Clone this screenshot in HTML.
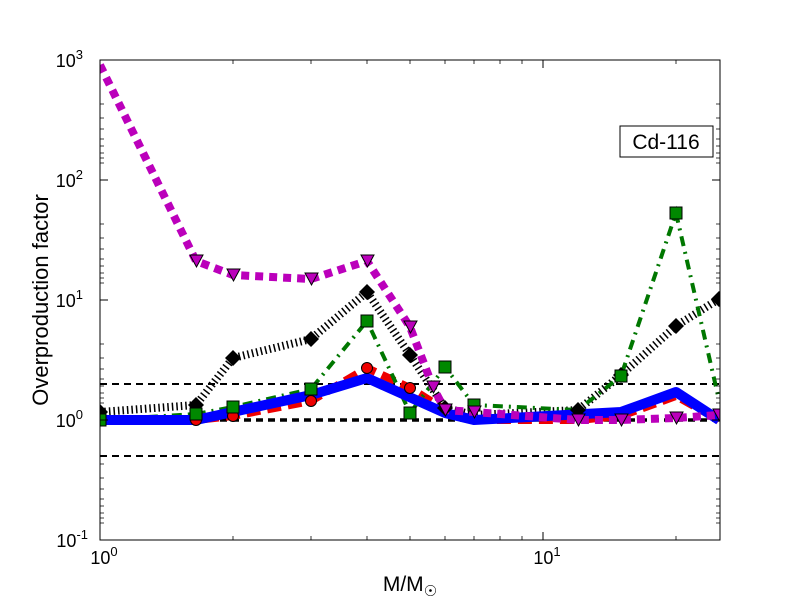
<!DOCTYPE html>
<html><head><meta charset="utf-8"><style>body{margin:0;background:#fff}svg{display:block}text{font-family:"Liberation Sans",sans-serif}</style></head>
<body>
<svg width="800" height="600" viewBox="0 0 800 600" xmlns="http://www.w3.org/2000/svg">
<rect width="800" height="600" fill="#fff"/>
<defs><clipPath id="c"><rect x="100" y="60" width="620" height="480"/></clipPath></defs>
<g clip-path="url(#c)">
<line x1="100" y1="384" x2="720" y2="384" stroke="#000" stroke-width="2" stroke-dasharray="7,5"/>
<line x1="100" y1="420" x2="720" y2="420" stroke="#000" stroke-width="3.5" stroke-dasharray="7,5"/>
<line x1="100" y1="456" x2="720" y2="456" stroke="#000" stroke-width="2" stroke-dasharray="7,5"/>
<polyline fill="none" stroke="#e00" stroke-width="8" stroke-dasharray="14,7" points="100,420 196,420 233,416 311,401 367,368 410,388 445,410 474,420 578,420 621,416 676,396 719,420"/>
<polyline fill="none" stroke="#000" stroke-width="8" stroke-dasharray="1.5,3" points="100,412 196,405 233,358 311,339 367,292 410,355 445,408 474,415 578,410 621,375 676,326 719,299"/>
<polyline fill="none" stroke="#070" stroke-width="4" stroke-dasharray="10,6,2,6" points="100,420 196,414 233,407 311,389 367,321 410,413 445,367 474,405 578,410 621,376 676,213 719,400"/>
<polyline fill="none" stroke="#00f" stroke-width="10" stroke-linejoin="round" points="100,420 196,420 311,395 367,378 445,413 474,420 621,412 676,392 719,420"/>
<polyline fill="none" stroke="#b0b" stroke-width="8" stroke-dasharray="8,6" points="100,65 196,261 233,275 311,279 367,261 410,327 433,387 445,410 474,412 578,420 621,420 676,418 719,415"/>
<g fill="#e00" stroke="#000" stroke-width="1">
<circle cx="311" cy="401" r="5.5"/><circle cx="367" cy="368" r="5.5"/><circle cx="410" cy="388" r="5.5"/><circle cx="233" cy="416" r="5.5"/><circle cx="196" cy="420" r="5.5"/>
</g>
<g fill="#000">
<path d="M100,404 l8,8 -8,8 -8,-8z"/><path d="M196,397 l8,8 -8,8 -8,-8z"/><path d="M233,350 l8,8 -8,8 -8,-8z"/><path d="M311,331 l8,8 -8,8 -8,-8z"/><path d="M367,284 l8,8 -8,8 -8,-8z"/><path d="M410,347 l8,8 -8,8 -8,-8z"/><path d="M445,400 l8,8 -8,8 -8,-8z"/><path d="M578,402 l8,8 -8,8 -8,-8z"/><path d="M621,367 l8,8 -8,8 -8,-8z"/><path d="M676,318 l8,8 -8,8 -8,-8z"/><path d="M719,291 l8,8 -8,8 -8,-8z"/>
</g>
<g fill="#080" stroke="#000" stroke-width="1">
<rect x="94" y="414" width="12" height="12"/><rect x="190" y="408" width="12" height="12"/><rect x="227" y="401" width="12" height="12"/><rect x="305" y="383" width="12" height="12"/><rect x="361" y="315" width="12" height="12"/><rect x="404" y="407" width="12" height="12"/><rect x="439" y="361" width="12" height="12"/><rect x="468" y="399" width="12" height="12"/><rect x="615" y="370" width="12" height="12"/><rect x="670" y="207" width="12" height="12"/>
</g>
<g fill="#b0b" stroke="#000" stroke-width="1">
<path d="M190,255 h13 l-6.5,12z"/><path d="M227,269 h13 l-6.5,12z"/><path d="M305,273 h13 l-6.5,12z"/><path d="M361,255 h13 l-6.5,12z"/><path d="M404,321 h13 l-6.5,12z"/><path d="M427,381 h13 l-6.5,12z"/><path d="M439,404 h13 l-6.5,12z"/><path d="M468,406 h13 l-6.5,12z"/><path d="M572,414 h13 l-6.5,12z"/><path d="M615,414 h13 l-6.5,12z"/><path d="M670,412 h13 l-6.5,12z"/><path d="M713,409 h13 l-6.5,12z"/>
</g>
</g>
<rect x="100" y="60" width="620" height="480" fill="none" stroke="#000" stroke-width="1"/>
<g stroke="#000" stroke-width="1">
<line x1="100" y1="180" x2="108" y2="180"/><line x1="100" y1="300" x2="108" y2="300"/><line x1="100" y1="420" x2="108" y2="420"/>
<line x1="720" y1="180" x2="712" y2="180"/><line x1="720" y1="300" x2="712" y2="300"/><line x1="720" y1="420" x2="712" y2="420"/>
<line x1="543" y1="540" x2="543" y2="532"/><line x1="543" y1="60" x2="543" y2="68"/>
</g>
<g stroke="#000" stroke-width="0.8">
<line x1="233" y1="540" x2="233" y2="536"/><line x1="311" y1="540" x2="311" y2="536"/><line x1="367" y1="540" x2="367" y2="536"/><line x1="410" y1="540" x2="410" y2="536"/><line x1="445" y1="540" x2="445" y2="536"/><line x1="474" y1="540" x2="474" y2="536"/><line x1="500" y1="540" x2="500" y2="536"/><line x1="522" y1="540" x2="522" y2="536"/><line x1="676" y1="540" x2="676" y2="536"/>
<line x1="233" y1="60" x2="233" y2="64"/><line x1="311" y1="60" x2="311" y2="64"/><line x1="367" y1="60" x2="367" y2="64"/><line x1="410" y1="60" x2="410" y2="64"/><line x1="445" y1="60" x2="445" y2="64"/><line x1="474" y1="60" x2="474" y2="64"/><line x1="500" y1="60" x2="500" y2="64"/><line x1="522" y1="60" x2="522" y2="64"/><line x1="676" y1="60" x2="676" y2="64"/>
</g>
<g stroke="#000" stroke-width="0.8" id="my">
<path d="M100,104 h4 M100,118 h4 M100,129 h4 M100,139 h4 M100,146 h4 M100,153 h4 M100,158 h4 M100,163 h4
M100,224 h4 M100,238 h4 M100,249 h4 M100,259 h4 M100,266 h4 M100,273 h4 M100,278 h4 M100,283 h4
M100,344 h4 M100,358 h4 M100,369 h4 M100,379 h4 M100,386 h4 M100,393 h4 M100,398 h4 M100,403 h4
M100,464 h4 M100,478 h4 M100,489 h4 M100,499 h4 M100,506 h4 M100,513 h4 M100,518 h4 M100,523 h4
M720,104 h-4 M720,118 h-4 M720,129 h-4 M720,139 h-4 M720,146 h-4 M720,153 h-4 M720,158 h-4 M720,163 h-4
M720,224 h-4 M720,238 h-4 M720,249 h-4 M720,259 h-4 M720,266 h-4 M720,273 h-4 M720,278 h-4 M720,283 h-4
M720,344 h-4 M720,358 h-4 M720,369 h-4 M720,379 h-4 M720,386 h-4 M720,393 h-4 M720,398 h-4 M720,403 h-4
M720,464 h-4 M720,478 h-4 M720,489 h-4 M720,499 h-4 M720,506 h-4 M720,513 h-4 M720,518 h-4 M720,523 h-4"/>
</g>
<g font-size="18" fill="#000" text-anchor="end">
<text x="83" y="67">10<tspan font-size="13" dy="-8">3</tspan></text>
<text x="83" y="187">10<tspan font-size="13" dy="-8">2</tspan></text>
<text x="83" y="307">10<tspan font-size="13" dy="-8">1</tspan></text>
<text x="83" y="427">10<tspan font-size="13" dy="-8">0</tspan></text>
<text x="88" y="547">10<tspan font-size="13" dy="-8">-1</tspan></text>
</g>
<g font-size="18" fill="#000" text-anchor="middle">
<text x="104" y="564">10<tspan font-size="13" dy="-8">0</tspan></text>
<text x="547" y="564">10<tspan font-size="13" dy="-8">1</tspan></text>
</g>
<text x="410" y="591" font-size="21" text-anchor="middle">M/M<tspan font-size="15" dy="5">☉</tspan></text>
<text transform="translate(48,300) rotate(-90)" font-size="22" text-anchor="middle">Overproduction factor</text>
<rect x="620" y="126" width="93" height="31" fill="#fff" stroke="#000" stroke-width="1"/>
<text x="666" y="149" font-size="21" text-anchor="middle">Cd-116</text>
</svg>
</body></html>
